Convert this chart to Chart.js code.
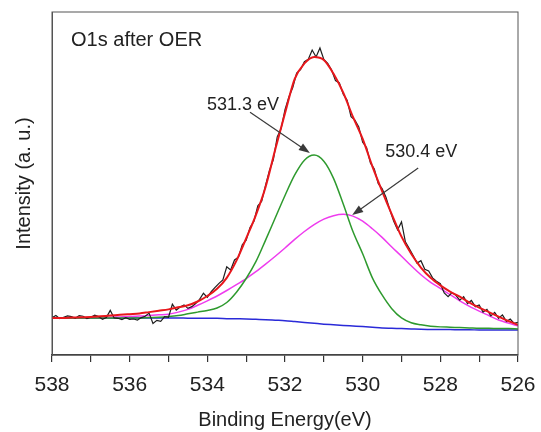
<!DOCTYPE html>
<html>
<head>
<meta charset="utf-8">
<title>O1s after OER</title>
<script src="https://cdn.jsdelivr.net/npm/chart.js@4.4.0/dist/chart.umd.min.js"></script>
<style>
	html, body { margin: 0; padding: 0; background: #fff; }
	#wrapper-xps { width: 541px; height: 432px; }
</style>
</head>
<body>
<div id="wrapper-xps"><canvas id="xps-o1s"></canvas></div>
<script>
// Raw O1s spectrum (binding energy in eV, intensity in a. u.)
const energyRaw = [
	538.0, 537.9, 537.8, 537.7, 537.6, 537.5, 537.4, 537.3, 537.2, 537.1,
	537.0, 536.9, 536.8, 536.7, 536.6, 536.5, 536.4, 536.3, 536.2, 536.1,
	536.0, 535.9, 535.8, 535.7, 535.6, 535.5, 535.4, 535.3, 535.2, 535.1,
	535.0, 534.9, 534.8, 534.7, 534.6, 534.5, 534.4, 534.3, 534.2, 534.1,
	534.0, 533.9, 533.8, 533.7, 533.6, 533.5, 533.4, 533.3, 533.2, 533.1,
	533.0, 532.9, 532.8, 532.7, 532.6, 532.5, 532.4, 532.3, 532.2, 532.1,
	532.0, 531.9, 531.8, 531.7, 531.6, 531.5, 531.4, 531.3, 531.2, 531.1,
	531.0, 530.9, 530.8, 530.7, 530.6, 530.5, 530.4, 530.3, 530.2, 530.1,
	530.0, 529.9, 529.8, 529.7, 529.6, 529.5, 529.4, 529.3, 529.2, 529.1,
	529.0, 528.9, 528.8, 528.7, 528.6, 528.5, 528.4, 528.3, 528.2, 528.1,
	528.0, 527.9, 527.8, 527.7, 527.6, 527.5, 527.4, 527.3, 527.2, 527.1,
	527.0, 526.9, 526.8, 526.7, 526.6, 526.5, 526.4, 526.3, 526.2, 526.1,
	526.0
];
const countsRaw = [
	10.9, 11.5, 10.6, 11.0, 11.4, 11.2, 10.7, 11.5, 11.3, 10.6,
	11.0, 11.6, 11.2, 10.4, 10.9, 13.0, 10.8, 10.7, 10.3, 10.9,
	10.4, 10.5, 10.2, 10.9, 11.3, 12.2, 9.2, 10.1, 9.8, 11.2,
	11.0, 14.8, 13.1, 14.0, 14.6, 13.6, 14.1, 15.0, 16.2, 18.0,
	16.8, 18.5, 19.7, 20.9, 21.9, 25.7, 24.8, 27.7, 28.5, 32.1,
	33.5, 37.2, 39.0, 43.5, 44.8, 49.5, 53.8, 57.0, 63.6, 66.0,
	71.5, 75.2, 78.0, 82.2, 83.2, 85.5, 86.2, 88.9, 86.9, 89.5,
	86.2, 85.0, 83.1, 80.0, 79.3, 76.0, 74.3, 69.5, 68.5, 66.5,
	62.0, 60.5, 56.0, 54.2, 50.0, 48.5, 46.0, 42.3, 39.0, 36.5,
	38.8, 33.0, 31.0, 29.0, 26.8, 27.5, 25.0, 24.5, 22.5, 21.5,
	20.8, 18.1, 17.0, 18.2, 17.4, 16.0, 17.0, 15.0, 15.9, 14.1,
	14.6, 12.5, 13.3, 11.4, 12.4, 10.7, 11.7, 9.8, 10.5, 9.2,
	9.5
];

// Fitted curves
const energyFit = [
	538.0, 537.75, 537.5, 537.25, 537.0, 536.75, 536.5, 536.25, 536.0, 535.75,
	535.5, 535.25, 535.0, 534.75, 534.5, 534.25, 534.0, 533.75, 533.5, 533.25,
	533.0, 532.75, 532.5, 532.25, 532.0, 531.75, 531.5, 531.25, 531.0, 530.75,
	530.5, 530.25, 530.0, 529.75, 529.5, 529.25, 529.0, 528.75, 528.5, 528.25,
	528.0, 527.75, 527.5, 527.25, 527.0, 526.75, 526.5, 526.25, 526.0
];
const fitEnvelope = [
	10.8, 10.8, 10.9, 11.0, 11.1, 11.3, 11.5, 11.7, 11.9, 12.1,
	12.5, 12.9, 13.3, 13.9, 14.5, 15.6, 17.2, 19.3, 22.5, 27.5,
	34.0, 40.8, 49.0, 60.0, 70.5, 80.5, 85.0, 86.9, 86.0, 82.0,
	76.5, 69.4, 63.0, 55.0, 47.8, 41.0, 34.5, 29.5, 25.5, 22.5,
	20.3, 18.5, 17.0, 15.3, 13.8, 12.5, 11.2, 9.9, 8.8
];
const peak5313 = [
	10.8, 10.8, 10.8, 10.8, 10.8, 10.8, 10.8, 10.8, 10.8, 10.8,
	10.9, 11.0, 11.2, 11.5, 12.0, 12.5, 13.0, 13.7, 15.3, 18.3,
	22.3, 27.2, 33.5, 40.0, 46.5, 52.5, 56.8, 58.3, 56.5, 51.5,
	44.0, 36.0, 29.5, 22.5, 17.5, 13.5, 10.8, 9.4, 8.8, 8.4,
	8.2, 8.1, 8.0, 7.9, 7.8, 7.8, 7.7, 7.7, 7.6
];
const peak5304 = [
	10.8, 10.8, 10.8, 10.85, 10.9, 10.95, 11.0, 11.1, 11.2, 11.35,
	11.5, 11.7, 11.9, 12.5, 13.3, 14.5, 15.8, 17.2, 18.8, 20.5,
	22.3, 24.3, 26.5, 28.8, 31.2, 33.7, 36.0, 38.0, 39.6, 40.6,
	41.0, 40.5, 39.0, 36.8, 34.3, 31.5, 28.8, 26.0, 23.4, 21.2,
	19.4, 17.6, 15.8, 14.2, 12.8, 11.5, 10.2, 9.3, 8.5
];
const shirleyBg = [
	10.8, 10.8, 10.8, 10.8, 10.8, 10.8, 10.8, 10.8, 10.8, 10.8,
	10.8, 10.8, 10.8, 10.8, 10.75, 10.75, 10.7, 10.7, 10.6, 10.55,
	10.5, 10.4, 10.3, 10.15, 10.0, 9.75, 9.5, 9.25, 9.0, 8.8,
	8.6, 8.45, 8.3, 8.1, 7.9, 7.8, 7.7, 7.6, 7.5, 7.45,
	7.4, 7.4, 7.35, 7.35, 7.3, 7.3, 7.3, 7.3, 7.3
];

const sampleName = "O1s after OER";
const peakLabels = ["531.3 eV", "530.4 eV"];

const FONT = "'Liberation Sans', Arial, sans-serif";

const toPoints = (xs, ys) => xs.map((x, i) => ({ x: x, y: ys[i] }));

const curve = (label, xs, ys, color, width, order, smooth) => ({
	label: label,
	data: toPoints(xs, ys),
	borderColor: color,
	backgroundColor: color,
	borderWidth: width,
	pointRadius: 0,
	fill: false,
	order: order,
	tension: smooth ? 0.4 : 0,
	cubicInterpolationMode: smooth ? "monotone" : "default",
});

// text and arrows, placed in data coordinates
const annotate = {
	id: "annotate",
	afterDatasetsDraw(chart) {
		const { ctx, chartArea, scales } = chart;
		const px = (e) => scales.x.getPixelForValue(e);
		const py = (v) => scales.y.getPixelForValue(v);

		ctx.save();
		ctx.strokeStyle = "#555";
		ctx.lineWidth = 1;
		ctx.strokeRect(chartArea.left, chartArea.top, chartArea.width, chartArea.height);

		ctx.fillStyle = "#222";
		ctx.textBaseline = "middle";
		ctx.textAlign = "left";
		ctx.font = "20px " + FONT;
		ctx.fillText(sampleName, px(537.51), py(91.8));

		ctx.font = "18px " + FONT;
		ctx.fillText(peakLabels[0], px(534.01), py(72.9));
		ctx.fillText(peakLabels[1], px(529.42), py(59.2));

		const arrow = (e1, v1, e2, v2) => {
			let x1 = px(e1), y1 = py(v1), x2 = px(e2), y2 = py(v2);
			let a = Math.atan2(y2 - y1, x2 - x1);
			ctx.strokeStyle = "#3a3a3a";
			ctx.fillStyle = "#3a3a3a";
			ctx.lineWidth = 1.2;
			ctx.beginPath();
			ctx.moveTo(x1, y1);
			ctx.lineTo(x2 - 8 * Math.cos(a), y2 - 8 * Math.sin(a));
			ctx.stroke();
			ctx.beginPath();
			ctx.moveTo(x2, y2);
			ctx.lineTo(x2 - 11 * Math.cos(a) + 4 * Math.sin(a), y2 - 11 * Math.sin(a) - 4 * Math.cos(a));
			ctx.lineTo(x2 - 11 * Math.cos(a) - 4 * Math.sin(a), y2 - 11 * Math.sin(a) + 4 * Math.cos(a));
			ctx.closePath();
			ctx.fill();
		};
		arrow(532.9, 70.8, 531.36, 58.9);
		arrow(528.57, 54.5, 530.27, 40.8);
		ctx.restore();
	},
};

const ctx = document.getElementById("xps-o1s").getContext("2d");

new Chart(ctx, {
	type: "line",
	data: {
		datasets: [
			curve("Fit", energyFit, fitEnvelope, "#e8171c", 2, 1, true),
			curve("Raw", energyRaw, countsRaw, "#1e1e1e", 1.2, 2, false),
			curve("531.3 eV", energyFit, peak5313, "#2e9a2e", 1.5, 3, true),
			curve("530.4 eV", energyFit, peak5304, "#ee3cee", 1.5, 4, true),
			curve("Background", energyFit, shirleyBg, "#2a2ad8", 1.5, 5, true),
		],
	},
	options: {
		responsive: true,
		maintainAspectRatio: false,
		animation: false,
		events: [],
		layout: {
			padding: { top: 12, right: 23, left: 0, bottom: 0 },
		},
		plugins: {
			legend: { display: false },
			tooltip: { enabled: false },
		},
		scales: {
			x: {
				type: "linear",
				reverse: true,
				min: 526,
				max: 538,
				afterFit: (scale) => {
					scale.height = 77;
					scale.paddingLeft = 0;
					scale.paddingRight = 0;
				},
				border: { display: true, color: "#333", width: 1.5 },
				grid: {
					display: true,
					drawOnChartArea: false,
					drawTicks: true,
					tickLength: 7,
					color: "#333",
					lineWidth: 1.2,
				},
				ticks: {
					stepSize: 1,
					autoSkip: false,
					maxRotation: 0,
					padding: 11,
					color: "#222",
					font: { family: FONT, size: 21 },
					callback: (v) => (v % 2 === 0 ? String(v) : ""),
				},
				title: {
					display: true,
					text: "Binding Energy(eV)",
					color: "#222",
					font: { family: FONT, size: 20 },
					padding: { top: 0, bottom: 0 },
				},
			},
			y: {
				min: 0,
				max: 100,
				afterFit: (scale) => { scale.width = 52; },
				border: { display: true, color: "#555", width: 1 },
				grid: { display: false },
				ticks: { display: false },
				title: {
					display: true,
					text: "Intensity (a. u.)",
					color: "#222",
					font: { family: FONT, size: 20 },
					padding: { top: 12, bottom: 0 },
				},
			},
		},
	},
	plugins: [annotate],
});
</script>
</body>
</html>
